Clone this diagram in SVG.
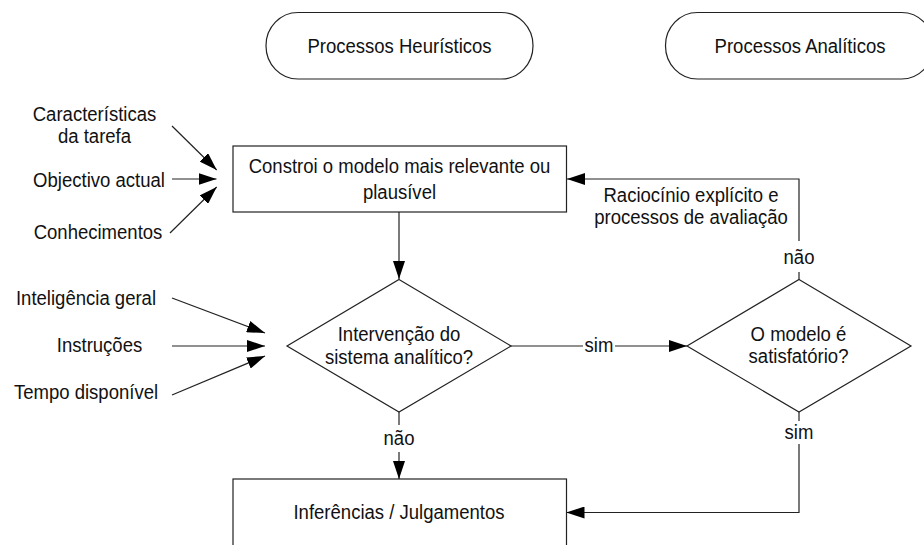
<svg xmlns="http://www.w3.org/2000/svg" width="924" height="545" viewBox="0 0 924 545">
<style>
text{font-family:"Liberation Sans",Arial,sans-serif;font-size:20.6px;fill:#111;text-anchor:middle}
.s{fill:#fff;stroke:#222;stroke-width:1.2}
.c{fill:none;stroke:#222;stroke-width:1.2}
</style>
<defs>
<marker id="ah" markerUnits="userSpaceOnUse" markerWidth="18" markerHeight="12" refX="18" refY="6" orient="auto" viewBox="0 0 18 12">
<path d="M0,0 L18,6 L0,12 z" fill="#000"/>
</marker>
</defs>
<g id="heuristicos">
<rect class="s" x="266" y="12.5" width="267" height="66.5" rx="32" ry="33"/>
<text transform="translate(399.5 52.5) scale(0.9 1)">Processos Heurísticos</text>
</g>
<g id="analiticos">
<rect class="s" x="665.5" y="12.5" width="268" height="66.5" rx="32" ry="33"/>
<text transform="translate(800 52.5) scale(0.9 1)">Processos Analíticos</text>
</g>
<g id="constroi">
<rect class="s" x="233" y="146" width="333.5" height="66"/>
<text transform="translate(399.5 172.5) scale(0.9 1)">Constroi o modelo mais relevante ou</text>
<text transform="translate(399.5 198.5) scale(0.9 1)">plausível</text>
</g>
<g id="intervencao">
<polygon class="s" points="399,279.5 511,346 399,412 287,346"/>
<text transform="translate(399 340.5) scale(0.9 1)">Intervenção do</text>
<text transform="translate(399 363.5) scale(0.9 1)">sistema analítico?</text>
</g>
<g id="satisfatorio">
<polygon class="s" points="799,279.5 911,346 799,412 687,346"/>
<text transform="translate(798.5 341) scale(0.9 1)">O modelo é</text>
<text transform="translate(798.5 362.5) scale(0.9 1)">satisfatório?</text>
</g>
<g id="inferencias">
<rect class="s" x="233" y="479" width="333.5" height="80"/>
<text transform="translate(399 518.5) scale(0.9 1)">Inferências / Julgamentos</text>
</g>
<g id="inputs">
<text transform="translate(94.5 120.5) scale(0.9 1)">Características</text>
<text transform="translate(94.5 143) scale(0.9 1)">da tarefa</text>
<text transform="translate(99 186.5) scale(0.9 1)">Objectivo actual</text>
<text transform="translate(98 238.5) scale(0.9 1)">Conhecimentos</text>
<text transform="translate(86 305) scale(0.9 1)">Inteligência geral</text>
<text transform="translate(99.5 352) scale(0.9 1)">Instruções</text>
<text transform="translate(86 398.5) scale(0.9 1)">Tempo disponível</text>
</g>
<g id="connectors">
<path class="c" d="M172,126 L216.7,170" marker-end="url(#ah)"/>
<path class="c" d="M172,179 L216.5,179" marker-end="url(#ah)"/>
<path class="c" d="M170,233 L216.7,187" marker-end="url(#ah)"/>
<path class="c" d="M172,298 L265,333" marker-end="url(#ah)"/>
<path class="c" d="M172,346 L265,346" marker-end="url(#ah)"/>
<path class="c" d="M172,395 L265,356" marker-end="url(#ah)"/>
<path class="c" d="M399,212 V279" marker-end="url(#ah)"/>
<path class="c" d="M399,412 V425"/>
<path class="c" d="M399,452 V479" marker-end="url(#ah)"/>
<text transform="translate(399 444.5) scale(0.9 1)">não</text>
<path class="c" d="M511,346 H583"/>
<path class="c" d="M615,346 H687" marker-end="url(#ah)"/>
<text transform="translate(599 352) scale(0.9 1)">sim</text>
<path class="c" d="M799,279.5 V272"/>
<path class="c" d="M799,241 V179 H567" marker-end="url(#ah)"/>
<text transform="translate(799 264) scale(0.9 1)">não</text>
<text transform="translate(691 201.5) scale(0.9 1)">Raciocínio explícito e</text>
<text transform="translate(691 224) scale(0.9 1)">processos de avaliação</text>
<path class="c" d="M799,412 V421"/>
<path class="c" d="M799,444 V512.5 H566.5" marker-end="url(#ah)"/>
<text transform="translate(799 438.5) scale(0.9 1)">sim</text>
</g>
</svg>
